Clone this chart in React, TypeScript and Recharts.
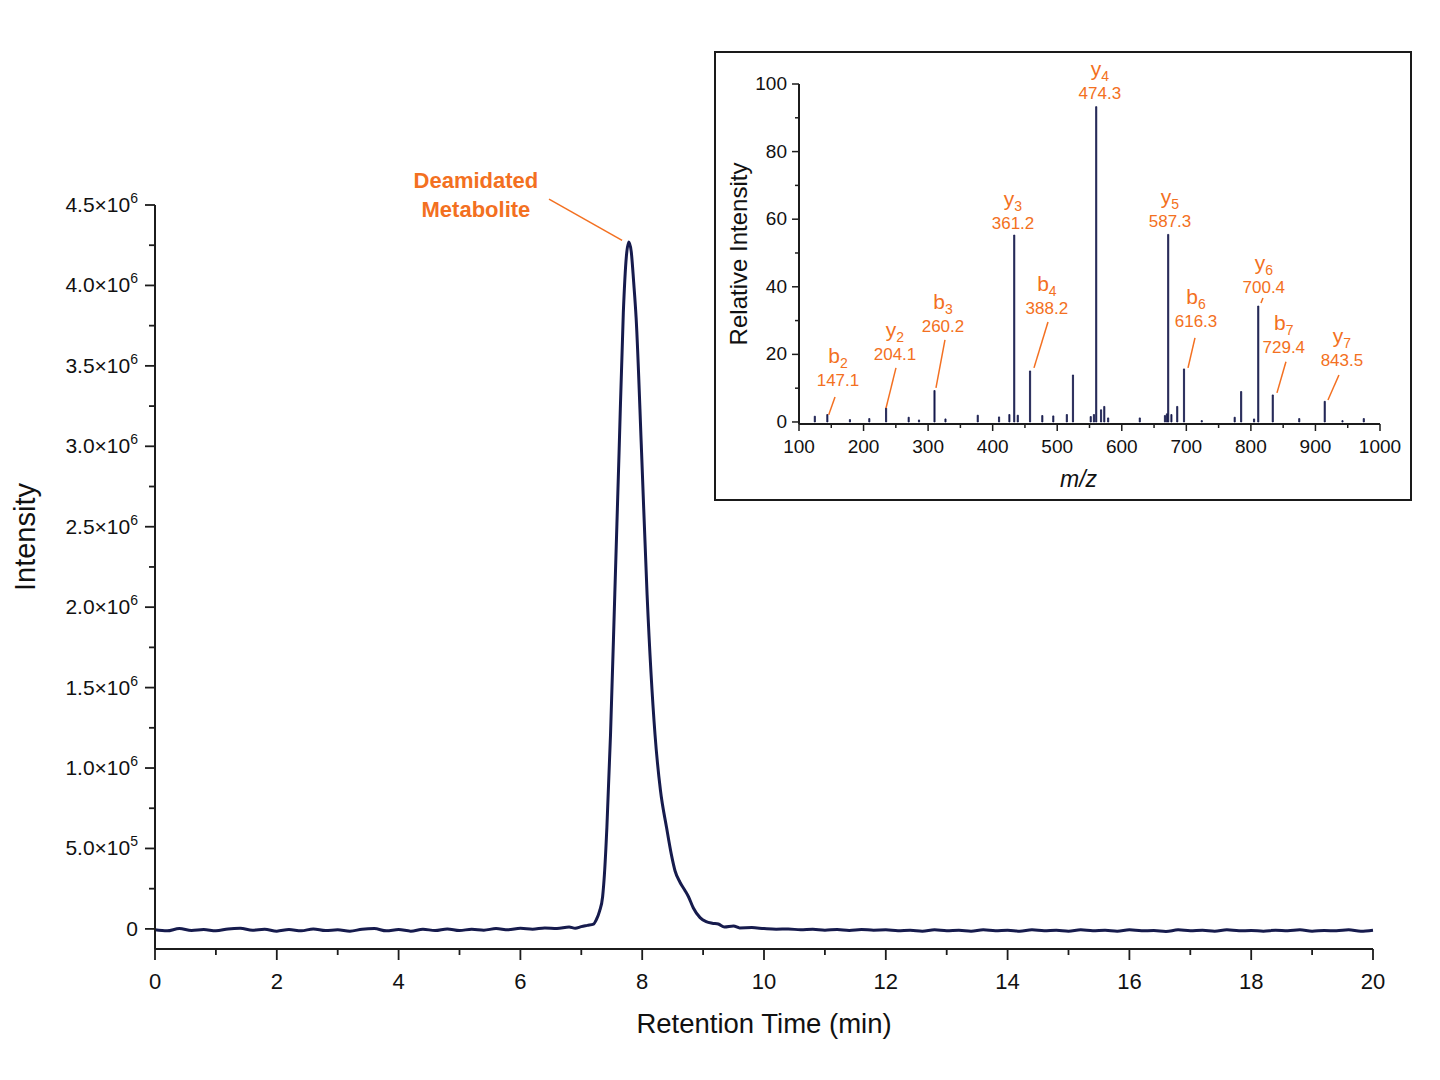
import React from 'react'
import {
  LineChart,
  Line,
  ComposedChart,
  Bar,
  XAxis,
  YAxis,
  ReferenceLine,
  ReferenceDot,
} from 'recharts'

const FONT = '"Liberation Sans", Arial, Helvetica, sans-serif'
const NAVY = '#161b4d'
const ORANGE = '#f37021'
const AXIS = '#1c1c1c'

// --- chromatogram (retention time in min, intensity in thousands of counts)
const retentionTime = [
  0, 0.2, 0.4, 0.6, 0.8, 1.0, 1.2, 1.4, 1.6, 1.8,
  2.0, 2.2, 2.4, 2.6, 2.8, 3.0, 3.2, 3.4, 3.6, 3.8,
  4.0, 4.2, 4.4, 4.6, 4.8, 5.0, 5.2, 5.4, 5.6, 5.8,
  6.0, 6.2, 6.4, 6.6, 6.8,
  6.9, 7.0, 7.1, 7.2, 7.25, 7.3, 7.35, 7.38, 7.42, 7.48,
  7.55, 7.62, 7.69, 7.74, 7.78, 7.82, 7.86, 7.9, 7.99, 8.08,
  8.21, 8.3, 8.4, 8.48, 8.54, 8.62, 8.7, 8.76, 8.84, 8.95,
  9.05, 9.15, 9.25, 9.35, 9.5, 9.6, 9.8, 10.0,
  10.2, 10.4, 10.6, 10.8, 11.0, 11.2, 11.4, 11.6, 11.8, 12.0,
  12.2, 12.4, 12.6, 12.8, 13.0, 13.2, 13.4, 13.6, 13.8, 14.0,
  14.2, 14.4, 14.6, 14.8, 15.0, 15.2, 15.4, 15.6, 15.8, 16.0,
  16.2, 16.4, 16.6, 16.8, 17.0, 17.2, 17.4, 17.6, 17.8, 18.0,
  18.2, 18.4, 18.6, 18.8, 19.0, 19.2, 19.4, 19.6, 19.8, 20.0,
]

const intensityK = [
  -5, -12, 2, -10, -4, -12, 0, 4, -8, -2,
  -14, -4, -12, 0, -10, -6, -14, -2, 2, -12,
  -4, -14, -2, -10, 0, -10, -2, -8, 2, -6,
  4, -2, 6, 2, 12,
  4, 14, 22, 30, 60, 110, 200, 340, 630, 1210,
  2080, 2960, 3830, 4180, 4270, 4210, 4020, 3800, 2960, 2080,
  1210, 860, 630, 460, 360, 290, 240, 200, 130, 70,
  45, 35, 30, 12, 18, 6, 8, 2,
  -2, 0, -6, -2, -8, -4, -10, -4, -8, -6,
  -12, -8, -14, -6, -12, -8, -14, -6, -12, -8,
  -14, -6, -12, -8, -14, -6, -12, -8, -14, -6,
  -12, -10, -16, -6, -12, -8, -14, -6, -12, -10,
  -14, -8, -12, -6, -14, -10, -12, -6, -14, -8,
]

const intensityMajorTicks = [0, 500000, 1000000, 1500000, 2000000, 2500000, 3000000, 3500000, 4000000, 4500000]
const intensityMinorTicks = [250000, 750000, 1250000, 1750000, 2250000, 2750000, 3250000, 3750000, 4250000]
const timeTicks = [0, 1, 2, 3, 4, 5, 6, 7, 8, 9, 10, 11, 12, 13, 14, 15, 16, 17, 18, 19, 20]

const peakName = ['Deamidated', 'Metabolite']

// --- MS/MS spectrum (m/z, relative intensity)
const peakMz = [
  124.6, 144, 179, 209, 235, 270, 286, 310, 327, 377,
  410, 426, 433.5, 439, 458, 477, 494, 515, 524.5, 552,
  557, 560.5, 568, 573, 579, 628, 667, 670, 672, 677,
  686, 696.5, 724, 775, 785, 805, 811.5, 834, 875, 914.5,
  942, 975,
]
const peakRelInt = [
  1.7, 2.2, 0.7, 1.0, 4.1, 1.4, 0.6, 9.3, 0.9, 2.0,
  1.5, 2.2, 55.3, 2.0, 15.1, 1.9, 1.8, 2.2, 13.9, 1.6,
  2.2, 93.3, 3.6, 4.6, 1.2, 1.2, 1.9, 2.4, 55.5, 2.2,
  4.6, 15.7, 0.4, 1.4, 9.0, 0.9, 34.3, 8.0, 1.0, 6.1,
  0.4, 1.0,
]

const ionType = ['b', 'y', 'b', 'y', 'b', 'y', 'y', 'b', 'y', 'b', 'y']
const ionIndex = ['2', '2', '3', '3', '4', '4', '5', '6', '6', '7', '7']
const ionMz = ['147.1', '204.1', '260.2', '361.2', '388.2', '474.3', '587.3', '616.3', '700.4', '729.4', '843.5']

// where each ion annotation sits, in axis units [m/z, rel. int.]
const ionLabelAt = [
  [160.4, 12.4], [248.7, 20.1], [323, 28.4], [431.5, 58.9], [484, 33.7], [566, 97.3],
  [674.7, 59.5], [715, 29.9], [820, 39.9], [851, 22.2], [941, 18.3],
]
// leader segments [x1, y1, x2, y2], null where the label sits on its peak
const ionLeader: (number[] | null)[] = [
  [155.8, 7.4, 146, 2.1],
  [250.2, 16.0, 234.8, 4.1],
  [326.1, 24.3, 312.2, 10.1],
  null,
  [485.7, 29.6, 464, 16.0],
  null,
  null,
  [713.4, 24.9, 702.6, 16.0],
  [818.7, 36.7, 815.6, 35.2],
  [854.3, 17.8, 840.4, 8.6],
  [936.4, 13.9, 919.4, 6.5],
]

const relTicks = [0, 10, 20, 30, 40, 50, 60, 70, 80, 90, 100]
const mzTicks = [100, 150, 200, 250, 300, 350, 400, 450, 500, 550, 600, 650, 700, 750, 800, 850, 900, 950, 1000]

const chromData = retentionTime.map((t, i) => ({ t, intensity: intensityK[i] * 1000 }))
const spectrumData = peakMz.map((mz, i) => ({ mz, rel: peakRelInt[i] }))

function sci(v: number) {
  if (v === 0) return { base: '0', exp: '' }
  const exp = Math.floor(Math.log10(v))
  return { base: `${(v / 10 ** exp).toFixed(1)}×10`, exp: String(exp) }
}

function IntensityTick({ x, y, payload }: any) {
  const major = payload.value % 500000 === 0
  const { base, exp } = sci(payload.value)
  return (
    <g>
      <line x1={x - (major ? 10 : 6)} x2={x} y1={y} y2={y} stroke={AXIS} strokeWidth={1.8} />
      {major && (
        <text x={x - 17} y={y + 7} textAnchor="end" fontSize={21} fontFamily={FONT} fill="#111">
          {base}
          {exp && (
            <tspan fontSize={14} dy={-9}>
              {exp}
            </tspan>
          )}
        </text>
      )}
    </g>
  )
}

function TimeTick({ x, y, payload }: any) {
  const major = payload.value % 2 === 0
  return (
    <g>
      <line x1={x} x2={x} y1={y} y2={y + (major ? 11 : 6)} stroke={AXIS} strokeWidth={1.8} />
      {major && (
        <text x={x} y={y + 40} textAnchor="middle" fontSize={22} fontFamily={FONT} fill="#111">
          {payload.value}
        </text>
      )}
    </g>
  )
}

function RelTick({ x, y, payload }: any) {
  const major = payload.value % 20 === 0
  return (
    <g>
      <line x1={x - (major ? 7 : 4)} x2={x} y1={y} y2={y} stroke={AXIS} strokeWidth={1.5} />
      {major && (
        <text x={x - 12} y={y + 6} textAnchor="end" fontSize={19} fontFamily={FONT} fill="#111">
          {payload.value}
        </text>
      )}
    </g>
  )
}

function MzTick({ x, y, payload }: any) {
  const major = payload.value % 100 === 0
  return (
    <g>
      <line x1={x} x2={x} y1={y} y2={y + (major ? 7 : 4)} stroke={AXIS} strokeWidth={1.5} />
      {major && (
        <text x={x} y={y + 29} textAnchor="middle" fontSize={19} fontFamily={FONT} fill="#111">
          {payload.value}
        </text>
      )}
    </g>
  )
}

function Spectrum() {
  return (
    <div
      style={{
        position: 'absolute',
        left: 714,
        top: 51,
        width: 698,
        height: 450,
        boxSizing: 'border-box',
        border: '2px solid #1a1a1a',
        background: '#fff',
      }}
    >
      <ComposedChart
        width={694}
        height={446}
        data={spectrumData}
        margin={{ top: 31, right: 30, bottom: 25, left: 23 }}
      >
        <XAxis
          dataKey="mz"
          type="number"
          domain={[100, 1000]}
          ticks={mzTicks}
          interval={0}
          height={50}
          tickSize={0}
          tickMargin={0}
          tickLine={false}
          tick={<MzTick />}
          axisLine={{ stroke: AXIS, strokeWidth: 2 }}
          label={{
            content: ({ viewBox }: any) => (
              <text
                x={viewBox.x + viewBox.width / 2 - 11}
                y={viewBox.y + 63}
                textAnchor="middle"
                fontSize={23}
                fontStyle="italic"
                fontFamily={FONT}
                fill="#111"
              >
                m/z
              </text>
            ),
          }}
        />
        <YAxis
          type="number"
          domain={[-0.6, 100]}
          ticks={relTicks}
          interval={0}
          width={60}
          tickSize={0}
          tickMargin={0}
          tickLine={false}
          tick={<RelTick />}
          axisLine={{ stroke: AXIS, strokeWidth: 2 }}
          label={{
            content: ({ viewBox }: any) => {
              const cx = viewBox.x + viewBox.width - 61
              const cy = viewBox.y + viewBox.height / 2
              return (
                <text
                  x={cx}
                  y={cy}
                  transform={`rotate(-90 ${cx} ${cy})`}
                  textAnchor="middle"
                  dominantBaseline="central"
                  fontSize={24}
                  fontFamily={FONT}
                  fill="#111"
                >
                  Relative Intensity
                </text>
              )
            },
          }}
        />
        <Bar
          dataKey="rel"
          fill={NAVY}
          stroke={NAVY}
          strokeWidth={0.8}
          barSize={3}
          isAnimationActive={false}
        />
        {ionLeader.map((seg, i) =>
          seg ? (
            <ReferenceLine
              key={`lead-${i}`}
              segment={[
                { x: seg[0], y: seg[1] },
                { x: seg[2], y: seg[3] },
              ]}
              stroke={ORANGE}
              strokeWidth={1.5}
            />
          ) : null
        )}
        {ionLabelAt.map(([mz, rel], i) => (
          <ReferenceDot
            key={`ion-${i}`}
            x={mz}
            y={rel}
            r={0}
            ifOverflow="visible"
            shape={(p: any) => (
              <g>
                <text x={p.cx} y={p.cy - 17} textAnchor="middle" fontSize={21} fontFamily={FONT} fill={ORANGE}>
                  {ionType[i]}
                  <tspan fontSize={14} dy={5}>
                    {ionIndex[i]}
                  </tspan>
                </text>
                <text x={p.cx} y={p.cy + 6} textAnchor="middle" fontSize={17} fontFamily={FONT} fill={ORANGE}>
                  {ionMz[i]}
                </text>
              </g>
            )}
          />
        ))}
      </ComposedChart>
    </div>
  )
}

export default function App() {
  return (
    <div style={{ position: 'absolute', left: 0, top: 0, width: 1440, height: 1080, background: '#fff' }}>
      <LineChart
        width={1440}
        height={1080}
        data={chromData}
        margin={{ top: 205, right: 67, bottom: 71, left: 55 }}
      >
        <XAxis
          dataKey="t"
          type="number"
          domain={[0, 20]}
          ticks={timeTicks}
          interval={0}
          height={60}
          tickSize={0}
          tickMargin={0}
          tickLine={false}
          tick={<TimeTick />}
          axisLine={{ stroke: AXIS, strokeWidth: 2 }}
          label={{
            content: ({ viewBox }: any) => (
              <text
                x={viewBox.x + viewBox.width / 2}
                y={viewBox.y + 84}
                textAnchor="middle"
                fontSize={27.5}
                fontFamily={FONT}
                fill="#111"
              >
                Retention Time (min)
              </text>
            ),
          }}
        />
        <YAxis
          type="number"
          domain={[-125000, 4500000]}
          ticks={[...intensityMajorTicks, ...intensityMinorTicks]}
          interval={0}
          width={100}
          tickSize={0}
          tickMargin={0}
          tickLine={false}
          tick={<IntensityTick />}
          axisLine={{ stroke: AXIS, strokeWidth: 2 }}
          label={{
            content: ({ viewBox }: any) => {
              const cx = viewBox.x + viewBox.width - 130
              const cy = viewBox.y + viewBox.height / 2 - 40
              return (
                <text
                  x={cx}
                  y={cy}
                  transform={`rotate(-90 ${cx} ${cy})`}
                  textAnchor="middle"
                  dominantBaseline="central"
                  fontSize={29}
                  fontFamily={FONT}
                  fill="#111"
                >
                  Intensity
                </text>
              )
            },
          }}
        />
        <Line
          type="monotone"
          dataKey="intensity"
          stroke={NAVY}
          strokeWidth={3}
          dot={false}
          isAnimationActive={false}
        />
        <ReferenceLine
          segment={[
            { x: 6.47, y: 4537000 },
            { x: 7.67, y: 4280000 },
          ]}
          stroke={ORANGE}
          strokeWidth={1.5}
          ifOverflow="visible"
        />
        <ReferenceDot
          x={5.27}
          y={4560000}
          r={0}
          ifOverflow="visible"
          shape={(p: any) => (
            <text textAnchor="middle" fontSize={22} fontWeight="bold" fontFamily={FONT} fill={ORANGE}>
              <tspan x={p.cx} y={p.cy - 7}>
                {peakName[0]}
              </tspan>
              <tspan x={p.cx} y={p.cy + 22}>
                {peakName[1]}
              </tspan>
            </text>
          )}
        />
      </LineChart>
      <Spectrum />
    </div>
  )
}
